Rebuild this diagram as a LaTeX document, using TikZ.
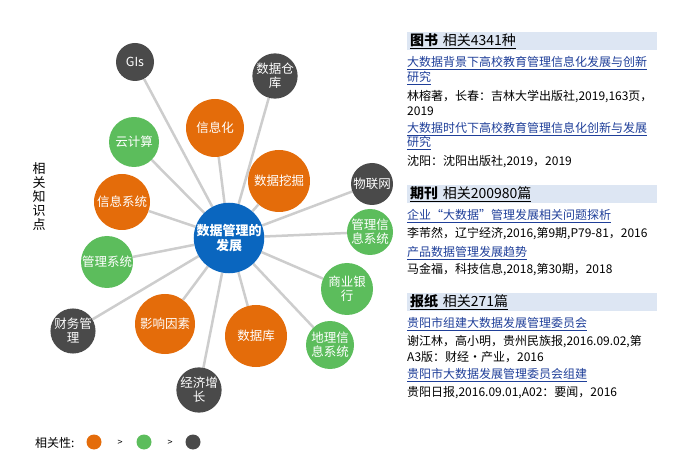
\documentclass[tikz,border=0pt]{standalone}
\usepackage{fontspec}
\setmainfont{Noto Sans CJK SC}
\usepackage{xcolor}
\usepackage{tikz}
\usetikzlibrary{backgrounds}
\definecolor{hotc}{HTML}{E46C0A}
\definecolor{warmc}{HTML}{5CBD5C}
\definecolor{coldc}{HTML}{4A4A4A}
\definecolor{hubc}{HTML}{0A66BF}
\definecolor{hdrc}{HTML}{DDE6F3}
\definecolor{lnkc}{HTML}{1F3F99}
\definecolor{edgec}{HTML}{CDCDCD}
\tikzset{
  kw/.style={circle, text=white, align=center, inner sep=0pt,
             font=\fontsize{12.5}{14}\selectfont},
  hot/.style={kw, fill=hotc, minimum size=#1},
  warm/.style={kw, fill=warmc, minimum size=#1},
  cold/.style={kw, fill=coldc, minimum size=#1},
  hub/.style={circle, fill=hubc, text=white, align=center, inner sep=0pt,
              minimum size=70pt, font=\fontsize{13}{15}\selectfont\bfseries},
  enlace/.style={draw=edgec, line width=2.5pt},
  hdr/.style={rectangle, fill=hdrc, anchor=west, minimum height=18pt,
              text width=244pt, inner xsep=3pt, inner ysep=0pt, align=left,
              font=\fontsize{14}{16}\selectfont},
  ref/.style={anchor=west, inner sep=0pt, font=\fontsize{12}{14}\selectfont},
  lnk/.style={ref, text=lnkc},
  ley/.style={circle, inner sep=0pt, minimum size=15pt}
}

\begin{document}
\begin{tikzpicture}[x=1pt, y=-1pt]
  \useasboundingbox (0,0) rectangle (688,454);

  % red de palabras clave
  \node[hub] (hub) at (229,238) {数据管理的\\发展};
  \node[cold=38] (gis) at (135,62) {GIs};
  \node[warm=50] (cloud) at (134,142) {云计算};
  \node[hot=56] (infosys) at (122,202) {信息系统};
  \node[cold=40] (dw) at (275,76) {数据仓\\库};
  \node[hot=58] (infoz) at (215,128) {信息化};
  \node[hot=62] (dm) at (279,181) {数据挖掘};
  \node[cold=42] (iot) at (372,184) {物联网};
  \node[warm=46] (mis) at (370,232) {管理信\\息系统};
  \node[warm=52] (bank) at (347,289) {商业银\\行};
  \node[warm=48] (geo) at (330,345) {地理信\\息系统};
  \node[hot=62] (db) at (256,336) {数据库};
  \node[cold=42] (econ) at (199,390) {经济增\\长};
  \node[hot=60] (factor) at (165,324) {影响因素};
  \node[cold=38] (fin) at (73,331) {财务管\\理};
  \node[warm=52] (msys) at (107,262) {管理系统};

  \begin{scope}[on background layer]
    \draw[enlace] (hub)--(gis); \draw[enlace] (hub)--(cloud);
    \draw[enlace] (hub)--(infosys); \draw[enlace] (hub)--(dw);
    \draw[enlace] (hub)--(infoz); \draw[enlace] (hub)--(dm);
    \draw[enlace] (hub)--(iot); \draw[enlace] (hub)--(mis);
    \draw[enlace] (hub)--(bank); \draw[enlace] (hub)--(geo);
    \draw[enlace] (hub)--(db); \draw[enlace] (hub)--(econ);
    \draw[enlace] (hub)--(factor); \draw[enlace] (hub)--(fin);
    \draw[enlace] (hub)--(msys);
  \end{scope}

  \node[align=center, inner sep=0pt, font=\fontsize{13}{14}\selectfont]
    (side) at (39,197) {相\\关\\知\\识\\点};

  % leyenda
  \node[anchor=west, inner sep=0pt, font=\fontsize{12}{14}\selectfont]
    (leyenda) at (35,443) {相关性:};
  \node[ley, fill=hotc] (l1) at (94,442) {};
  \node[font=\fontsize{9}{10}\selectfont] (g1) at (120,443) {>};
  \node[ley, fill=warmc] (l2) at (144,442) {};
  \node[font=\fontsize{9}{10}\selectfont] (g2) at (170,443) {>};
  \node[ley, fill=coldc] (l3) at (193,442) {};

  % referencias
  \node[hdr] (hbook) at (407,41) {\underline{\textbf{图书}\ 相关4341种}};
  \node[lnk] (b1) at (407,63) {\underline{大数据背景下高校教育管理信息化发展与创新}};
  \node[lnk] (b2) at (407,78) {\underline{研究}};
  \node[ref] (b3) at (407,97) {林榕著，长春：吉林大学出版社,2019,163页，};
  \node[ref] (b4) at (407,111) {2019};
  \node[lnk] (b5) at (407,129) {\underline{大数据时代下高校教育管理信息化创新与发展}};
  \node[lnk] (b6) at (407,143) {\underline{研究}};
  \node[ref] (b7) at (407,162) {沈阳：沈阳出版社,2019，2019};

  \node[hdr] (hjour) at (407,194) {\underline{\textbf{期刊}\ 相关200980篇}};
  \node[lnk] (j1) at (407,216) {\underline{企业“大数据”管理发展相关问题探析}};
  \node[ref] (j2) at (407,234) {李芾然，辽宁经济,2016,第9期,P79-81，2016};
  \node[lnk] (j3) at (407,253) {\underline{产品数据管理发展趋势}};
  \node[ref] (j4) at (407,270) {马金福，科技信息,2018,第30期，2018};

  \node[hdr] (hpaper) at (407,302) {\underline{\textbf{报纸}\ 相关271篇}};
  \node[lnk] (p1) at (407,324) {\underline{贵阳市组建大数据发展管理委员会}};
  \node[ref] (p2) at (407,342) {谢江林，高小明，贵州民族报,2016.09.02,第};
  \node[ref] (p3) at (407,357) {A3版：财经·产业，2016};
  \node[lnk] (p4) at (407,375) {\underline{贵阳市大数据发展管理委员会组建}};
  \node[ref] (p5) at (407,393) {贵阳日报,2016.09.01,A02：要闻，2016};
\end{tikzpicture}
\end{document}
